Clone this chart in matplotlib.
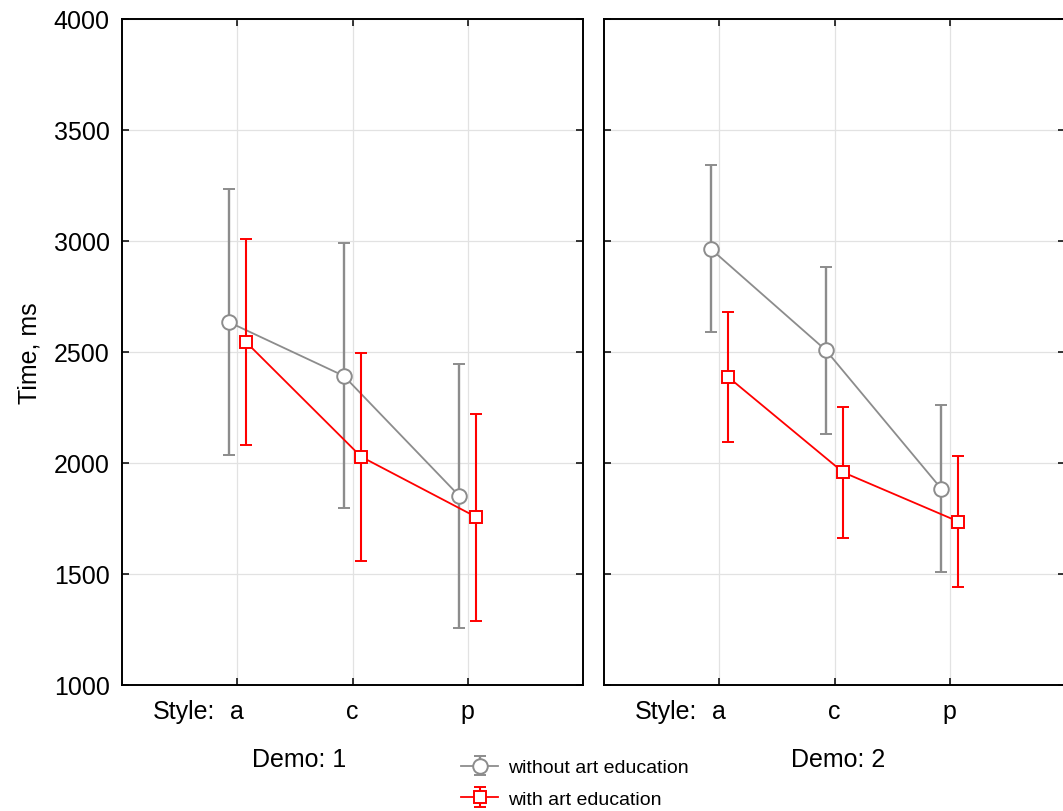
import numpy as np
import matplotlib
matplotlib.use('Agg')
import matplotlib.pyplot as plt
from matplotlib.transforms import blended_transform_factory

plt.rcParams.update({
    'font.family': 'Liberation Sans', 'font.size': 18,
})

styles = ["a", "c", "p"]
demos = ["Demo: 1", "Demo: 2"]

# means and half-widths of the error bars, per demo
without_mean = [[2635, 2392, 1852], [2965, 2508, 1885]]
without_err = [[597, 597, 595], [377, 377, 375]]
with_mean = [[2545, 2028, 1756], [2388, 1958, 1736]]
with_err = [[466, 469, 466], [294, 296, 295]]

GRAY = "#8c8c8c"
RED = "#ff0000"

fig = plt.figure(figsize=(10.63, 8.12), dpi=100)
ax1 = fig.add_axes([0.1148, 0.1552, 0.4337, 0.8202])
ax2 = fig.add_axes([0.5682, 0.1552, 0.4337, 0.8202])

x = np.arange(len(styles))
dx = 0.075
demo_x = [0.54, 1.03]
pad = 10

for i, ax in enumerate([ax1, ax2]):
    h1 = ax.errorbar(x - dx, without_mean[i], yerr=without_err[i], color=GRAY,
                     lw=1.3, elinewidth=1.7, capsize=4.5, capthick=1.7,
                     marker="o", ms=10.5, mfc="white", mec=GRAY, mew=1.4,
                     label="without art education", zorder=3)
    h2 = ax.errorbar(x + dx, with_mean[i], yerr=with_err[i], color=RED,
                     lw=1.3, elinewidth=1.5, capsize=4.5, capthick=1.5,
                     marker="s", ms=9, mfc="white", mec=RED, mew=1.4,
                     label="with art education", zorder=4)
    ax.set_xlim(-1, 3)
    ax.set_ylim(1000, 4000)
    ax.set_yticks(np.arange(1000, 4001, 500))
    ax.set_xticks(x)
    ax.set_xticklabels(styles)
    ax.grid(True, color="#e2e2e2", lw=0.9)
    ax.set_axisbelow(True)
    ax.tick_params(direction="in", length=5, width=1.1, top=True, right=True)
    ax.tick_params(axis="x", pad=pad)
    ax.tick_params(axis="y", pad=9)
    for s in ax.spines.values():
        s.set_linewidth(1.4)
    tr = blended_transform_factory(ax.transData, ax.transAxes)
    ax.text(-0.19, -(pad * 100 / 72) / 666.0, "Style:", transform=tr,
            ha="right", va="top")
    ax.text(demo_x[i], -0.111, demos[i], transform=tr, ha="center", va="center")

ax1.set_ylabel("Time, ms", labelpad=9)
ax2.tick_params(labelleft=False)

fig.legend(handles=[h1, h2], loc="center", bbox_to_anchor=(0.541, 0.034),
           frameon=False, fontsize=14, handlelength=1.9, labelspacing=0.72,
           handletextpad=0.5)

plt.savefig("out.png", dpi=100)
